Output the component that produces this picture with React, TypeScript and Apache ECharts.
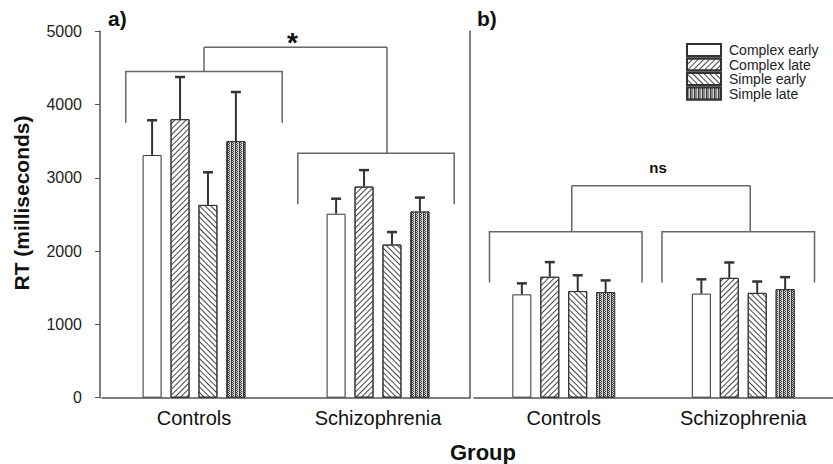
import React, { useEffect, useRef } from "react";
import * as echarts from "echarts";

const categories = ["Controls", "Schizophrenia"];
const conditions = ["Complex early", "Complex late", "Simple early", "Simple late"];
const yTicks = [0, 1000, 2000, 3000, 4000, 5000];

// Panel a) mean RT (ms), [Controls, Schizophrenia]
const complexEarlyA = [3310, 2510];
const complexLateA = [3800, 2880];
const simpleEarlyA = [2630, 2090];
const simpleLateA = [3500, 2540];
// Panel a) error bar size (ms)
const complexEarlyErrA = [475, 205];
const complexLateErrA = [575, 225];
const simpleEarlyErrA = [445, 170];
const simpleLateErrA = [670, 190];

// Panel b) mean RT (ms)
const complexEarlyB = [1410, 1420];
const complexLateB = [1650, 1635];
const simpleEarlyB = [1455, 1430];
const simpleLateB = [1440, 1480];
// Panel b) error bar size (ms)
const complexEarlyErrB = [150, 195];
const complexLateErrB = [200, 210];
const simpleEarlyErrB = [215, 155];
const simpleLateErrB = [160, 165];

// Significance brackets (ms)
const groupBracketA = [4450, 3335];
const groupBracketLegA = [3750, 2640];
const topBracketA = 4780;
const groupBracketB = [2265, 2265];
const groupBracketLegB = [1570, 1570];
const topBracketB = 2890;
const sigLabels = ["*", "ns"];

// ---- layout / style ----
const FONT = 'Arial, "Liberation Sans", Helvetica, sans-serif';
const BAR_W = 19;
const BAR_GAP = 0.47;
const PITCH = BAR_W * (1 + BAR_GAP);
const AXIS_COLOR = "#555";
const INK = "#333";
const layoutA = { shift: [10, -2], legShift: [10, 9], labelDy: -5, font: "bold 28px " + FONT };
const layoutB = { shift: [2, -5], legShift: [8, 7], labelDy: -18, font: "bold 15px " + FONT };

const fills = ["#fff", "#fff", "#fff", "#3a3a3a"];
const decals: any[] = [
  "none",
  { symbol: "rect", symbolSize: 1, dashArrayX: [1, 0], dashArrayY: [1, 3], rotation: -Math.PI / 4, color: "#444", backgroundColor: "#fff" },
  { symbol: "rect", symbolSize: 1, dashArrayX: [1, 0], dashArrayY: [1, 3], rotation: Math.PI / 4, color: "#444", backgroundColor: "#fff" },
  { symbol: "rect", symbolSize: 1, dashArrayX: [[1, 1], [0, 1, 1]], dashArrayY: [1, 0], rotation: 0, color: "#d4d4d4", backgroundColor: "#3a3a3a" },
];

function barSeries(data: number[], idx: number, axis: number) {
  return {
    type: "bar",
    name: conditions[idx],
    xAxisIndex: axis,
    yAxisIndex: axis,
    data,
    barWidth: BAR_W,
    barGap: Math.round(BAR_GAP * 100) + "%",
    itemStyle: { color: fills[idx], borderColor: INK, borderWidth: 1, decal: decals[idx] },
    emphasis: { disabled: true },
  };
}

function errorSeries(means: number[][], errs: number[][], axis: number) {
  const data: number[][] = [];
  means.forEach((m, s) => m.forEach((v, c) => data.push([c, s, v, v + errs[s][c]])));
  return {
    type: "custom",
    xAxisIndex: axis,
    yAxisIndex: axis,
    data,
    z: 5,
    silent: true,
    encode: { x: 0, y: [2, 3] },
    renderItem: (_p: any, api: any) => {
      const c = api.value(0);
      const s = api.value(1);
      const base = api.coord([c, api.value(2)]);
      const top = api.coord([c, api.value(3)]);
      const x = base[0] + (s - 1.5) * PITCH;
      return {
        type: "group",
        children: [
          { type: "line", shape: { x1: x, y1: base[1], x2: x, y2: top[1] }, style: { stroke: INK, lineWidth: 2 } },
          { type: "line", shape: { x1: x - 5, y1: top[1], x2: x + 5, y2: top[1] }, style: { stroke: INK, lineWidth: 2.5 } },
        ],
      };
    },
  };
}

function bracketSeries(levels: number[], legs: number[], top: number, layout: any, label: string, axis: number) {
  const data = levels.map((l, c) => [c, l, legs[c], top]);
  return {
    type: "custom",
    xAxisIndex: axis,
    yAxisIndex: axis,
    data,
    z: 4,
    silent: true,
    encode: { x: 0, y: [1, 2, 3] },
    renderItem: (_p: any, api: any) => {
      const c = api.value(0);
      const center = api.coord([c, 0])[0];
      const band = api.size([1, 0])[0];
      const half = band * 0.425;
      const yLvl = api.coord([c, api.value(1)])[1];
      const yLeg = api.coord([c, api.value(2)])[1];
      const yTop = api.coord([c, api.value(3)])[1];
      const x0 = center + layout.shift[c] - half;
      const x1 = center + layout.shift[c] + half;
      const legX = center + layout.legShift[c];
      const st = { stroke: "#666", lineWidth: 1.5, fill: null };
      const children: any[] = [
        { type: "polyline", shape: { points: [[x0, yLeg], [x0, yLvl], [x1, yLvl], [x1, yLeg]] }, style: st },
        { type: "line", shape: { x1: legX, y1: yLvl, x2: legX, y2: yTop }, style: st },
      ];
      if (c === 0) {
        const otherX = api.coord([1, 0])[0] + layout.legShift[1];
        children.push({ type: "line", shape: { x1: legX, y1: yTop, x2: otherX, y2: yTop }, style: st });
        children.push({
          type: "text",
          style: {
            text: label,
            x: (legX + otherX) / 2 - 3,
            y: yTop + layout.labelDy,
            align: "center",
            verticalAlign: "middle",
            font: layout.font,
            fill: "#111",
          },
        });
      }
      return { type: "group", children };
    },
  };
}

function xAxis(gridIndex: number) {
  return {
    type: "category",
    gridIndex,
    data: categories,
    axisLine: { lineStyle: { color: AXIS_COLOR, width: 1.5 } },
    axisTick: { alignWithLabel: true, length: 4, lineStyle: { color: AXIS_COLOR } },
    axisLabel: { fontSize: 20, color: "#111", margin: 10, fontFamily: FONT },
  };
}

export default function App() {
  const ref = useRef<HTMLDivElement>(null);
  useEffect(() => {
    if (!ref.current) return;
    const chart = echarts.init(ref.current, null, { renderer: "svg" });
    const option: any = {
      animation: false,
      backgroundColor: "#fff",
      textStyle: { fontFamily: FONT },
      grid: [
        { left: 102, width: 368, top: 31.2, height: 366.5 },
        { left: 474, width: 368, top: 31.2, height: 366.5 },
      ],
      xAxis: [xAxis(0), xAxis(1)],
      yAxis: [
        {
          type: "value",
          gridIndex: 0,
          min: yTicks[0],
          max: yTicks[yTicks.length - 1],
          interval: yTicks[1] - yTicks[0],
          offset: 2,
          axisLine: { show: true, lineStyle: { color: AXIS_COLOR, width: 1.5 } },
          axisTick: { show: true, length: 5, lineStyle: { color: AXIS_COLOR } },
          splitLine: { show: false },
          axisLabel: { fontSize: 16, color: "#222", margin: 18, fontFamily: FONT, formatter: (v: number) => String(v) },
        },
        {
          type: "value",
          gridIndex: 1,
          min: yTicks[0],
          max: yTicks[yTicks.length - 1],
          interval: yTicks[1] - yTicks[0],
          offset: 4,
          axisLine: { show: true, lineStyle: { color: AXIS_COLOR, width: 1.5 } },
          axisTick: { show: false },
          splitLine: { show: false },
          axisLabel: { show: false },
        },
      ],
      legend: {
        data: conditions,
        orient: "vertical",
        left: 681,
        top: 38,
        itemWidth: 34,
        itemHeight: 12,
        itemGap: 0.5,
        selectedMode: false,
        icon: "rect",
        textStyle: { fontSize: 14, lineHeight: 14, color: "#222", fontFamily: FONT, padding: [0, 0, 0, 3] },
      },
      graphic: [
        { type: "text", x: 108, y: 8, style: { text: "a)", font: "bold 21px " + FONT, fill: "#111" } },
        { type: "text", x: 477, y: 8, style: { text: "b)", font: "bold 21px " + FONT, fill: "#111" } },
        {
          type: "text",
          x: 21,
          y: 203,
          rotation: Math.PI / 2,
          style: { text: "RT (milliseconds)", font: "bold 21px " + FONT, fill: "#111", align: "center", verticalAlign: "middle" },
        },
        {
          type: "text",
          x: 483,
          y: 452,
          style: { text: "Group", font: "bold 22px " + FONT, fill: "#111", align: "center", verticalAlign: "middle" },
        },
      ],
      series: [
        barSeries(complexEarlyA, 0, 0),
        barSeries(complexLateA, 1, 0),
        barSeries(simpleEarlyA, 2, 0),
        barSeries(simpleLateA, 3, 0),
        barSeries(complexEarlyB, 0, 1),
        barSeries(complexLateB, 1, 1),
        barSeries(simpleEarlyB, 2, 1),
        barSeries(simpleLateB, 3, 1),
        errorSeries(
          [complexEarlyA, complexLateA, simpleEarlyA, simpleLateA],
          [complexEarlyErrA, complexLateErrA, simpleEarlyErrA, simpleLateErrA],
          0
        ),
        errorSeries(
          [complexEarlyB, complexLateB, simpleEarlyB, simpleLateB],
          [complexEarlyErrB, complexLateErrB, simpleEarlyErrB, simpleLateErrB],
          1
        ),
        bracketSeries(groupBracketA, groupBracketLegA, topBracketA, layoutA, sigLabels[0], 0),
        bracketSeries(groupBracketB, groupBracketLegB, topBracketB, layoutB, sigLabels[1], 1),
      ],
    };
    chart.setOption(option);
    return () => chart.dispose();
  }, []);
  return <div ref={ref} style={{ position: "absolute", left: 0, top: 0, width: 833, height: 464 }} />;
}
